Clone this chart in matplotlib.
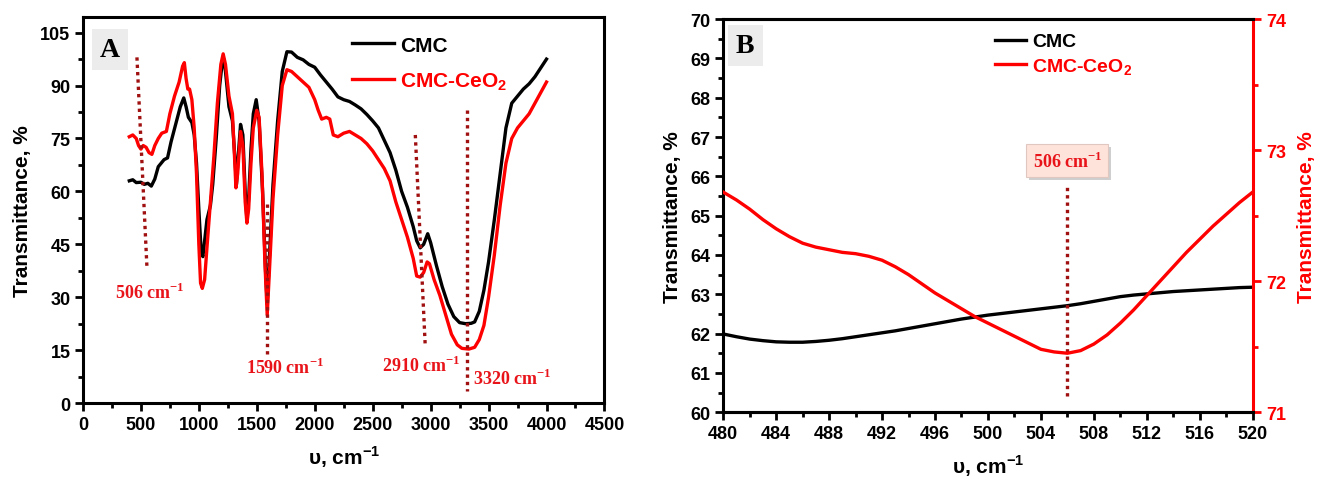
import matplotlib
matplotlib.use("Agg")
import matplotlib.pyplot as plt
import matplotlib.patheffects as pe
from matplotlib.ticker import MultipleLocator

plt.rcParams['font.family'] = ['Liberation Sans', 'DejaVu Sans']
plt.rcParams['font.weight'] = 'bold'
plt.rcParams['mathtext.fontset'] = 'custom'
plt.rcParams['mathtext.sf'] = 'Liberation Sans:bold'
plt.rcParams['mathtext.rm'] = 'Liberation Serif:bold'
plt.rcParams['mathtext.bf'] = 'Liberation Sans:bold'

# ---- panel A: full FTIR spectra ----
cmc_wn = [400, 430, 460, 500, 530, 560, 590, 620, 650, 700, 730, 760, 800, 840, 870,
          890, 910, 940, 960, 980, 1000, 1020, 1035, 1050, 1070, 1100, 1120, 1150, 1180,
          1200, 1215, 1230, 1260, 1290, 1310, 1325, 1340, 1360, 1380, 1400, 1415, 1430,
          1450, 1470, 1495, 1520, 1550, 1575, 1590, 1610, 1640, 1680, 1720, 1760, 1800,
          1850, 1900, 1950, 2000, 2050, 2100, 2150, 2200, 2250, 2300, 2350, 2400, 2450,
          2500, 2550, 2600, 2650, 2700, 2750, 2800, 2850, 2880, 2910, 2940, 2975, 3000,
          3050, 3100, 3150, 3200, 3250, 3300, 3350, 3380, 3420, 3460, 3500, 3550, 3600,
          3650, 3700, 3750, 3800, 3850, 3900, 3950, 4000]
cmc_t = [63.0, 63.3, 62.5, 62.6, 62.0, 62.3, 61.5, 63.5, 67, 69, 69.5, 74, 79, 84, 86.5,
         84, 81, 79.5, 76, 68, 55, 43, 41.5, 46, 52, 56, 62, 75, 90,
         96, 97.5, 94, 84, 80, 70, 62, 70, 79, 76, 60, 52, 58,
         72, 82, 86, 80, 60, 38, 28, 42, 62, 80, 94, 99.6, 99.5,
         98, 97.3, 96, 95.2, 93, 91, 89, 86.8, 86, 85.5, 84.5, 83.4, 81.8,
         80, 78, 74.5, 71, 66, 60, 55.5, 50, 46, 44, 45, 48, 45.5,
         39, 33, 28, 24.5, 22.8, 22.5, 22.6, 23.0, 26, 32, 40, 52, 65,
         78, 85, 87, 89, 90.5, 92.5, 95, 97.5]

ceo2_wn = [400, 430, 460, 480, 500, 520, 545, 570, 595, 620, 650, 680, 720, 750, 790,
           830, 860, 875, 890, 905, 920, 940, 960, 980, 1000, 1015, 1030, 1050, 1070,
           1100, 1130, 1160, 1190, 1210, 1230, 1260, 1290, 1305, 1320, 1335, 1360, 1380,
           1400, 1415, 1430, 1450, 1470, 1500, 1520, 1545, 1570, 1590, 1610, 1640, 1680,
           1720, 1760, 1800, 1850, 1900, 1950, 2000, 2030, 2060, 2100, 2130, 2160, 2200,
           2250, 2300, 2350, 2400, 2450, 2500, 2550, 2600, 2650, 2700, 2750, 2800, 2850,
           2880, 2910, 2940, 2970, 2990, 3030, 3080, 3130, 3180, 3230, 3270, 3330, 3380,
           3420, 3460, 3500, 3550, 3600, 3650, 3700, 3750, 3800, 3850, 3900, 3950, 4000]
ceo2_t = [75.5, 76, 75, 73, 72, 73, 72.5, 71, 70.5, 73, 75, 76.5, 77, 82, 87,
          91, 95.5, 96.5, 92, 89, 89, 86, 78, 65, 45, 34, 32.5, 35, 44,
          57, 70, 85, 96, 99, 96, 87, 82, 72, 61, 65, 77, 73,
          57, 51, 55, 68, 78, 83, 81, 65, 40, 25, 38, 58, 76,
          90, 94.5, 94, 92.5, 91, 89.5, 86, 83, 80.5, 81, 80.5, 76, 75.5,
          76.5, 77, 76, 75, 73.5, 71.5, 69, 66.5, 63, 57, 52, 47, 41,
          36, 35.7, 37, 40, 39.5, 35, 30.5, 25, 19.5, 16.5, 15.5, 15.3, 15.8,
          18, 22, 30, 42, 56, 68, 75, 78, 80, 82, 85, 88, 91]

# band markers: (x_top, y_top, x_bottom, y_bottom), label text position
band_labels = ['506', '1590', '2910', '3320']
band_lines = [(466, 98, 553, 38), (1589, 56.5, 1589, 14), (2868, 76, 2954, 15.9),
              (3317, 83, 3317, 3.4)]
band_text_pos = [(579, 31.5), (1745, 10.2), (2920, 10.8), (3706, 7.1)]

# ---- panel B: zoom around 506 cm-1 ----
zoom_wn = list(range(480, 521))
zoom_cmc = [61.99, 61.92, 61.86, 61.82, 61.79, 61.78, 61.78, 61.80, 61.83, 61.87,
            61.92, 61.97, 62.02, 62.07, 62.13, 62.19, 62.25, 62.31, 62.37, 62.42,
            62.47, 62.51, 62.55, 62.59, 62.63, 62.67, 62.71, 62.76, 62.82, 62.88,
            62.94, 62.98, 63.01, 63.04, 63.07, 63.09, 63.11, 63.13, 63.15, 63.17, 63.18]
zoom_ceo2 = [72.68, 72.62, 72.55, 72.47, 72.40, 72.34, 72.29, 72.26, 72.24, 72.22,
             72.21, 72.19, 72.16, 72.11, 72.05, 71.98, 71.91, 71.85, 71.79, 71.73,
             71.68, 71.63, 71.58, 71.53, 71.48, 71.46, 71.45, 71.47, 71.52, 71.59,
             71.68, 71.78, 71.89, 72.00, 72.11, 72.22, 72.32, 72.42, 72.51, 72.60, 72.68]

DARKRED = '#a01010'
RED = '#ff0000'
LABEL_RED = '#e8141a'
XLABEL = r'$\mathsf{\upsilon}$, cm$^{\mathsf{-1}}$'


def style_axis(ax, color='black'):
    for sp in ax.spines.values():
        sp.set_linewidth(2.2)
    ax.tick_params(which='major', direction='out', length=6, width=2,
                   labelsize=13, pad=3, colors=color)
    ax.tick_params(which='minor', direction='out', length=3.5, width=2, colors=color)
    ax.tick_params(top=False, right=False, which='both')
    for lab in ax.get_xticklabels() + ax.get_yticklabels():
        lab.set_fontweight('bold')


def panel_tag(ax, letter, x, y):
    ax.text(x, y, letter, transform=ax.transAxes, ha='center', va='center',
            fontsize=20, fontweight='bold', family='Liberation Serif',
            bbox=dict(boxstyle='square,pad=0.3', fc='#ececec', ec='none'))


fig = plt.figure(figsize=(13.27, 4.81), dpi=100)

axA = fig.add_axes([0.0625, 0.160, 0.393, 0.803])
axA.plot(cmc_wn, cmc_t, color='black', lw=2.4, label='CMC')
axA.plot(ceo2_wn, ceo2_t, color=RED, lw=2.4, label=r'CMC-CeO$_{\mathsf{2}}$')
for (x0, y0, x1, y1), (tx, ty), lab in zip(band_lines, band_text_pos, band_labels):
    axA.plot([x0, x1], [y0, y1], color=DARKRED, lw=2.4, ls=(0, (1, 1.2)))
    axA.text(tx, ty, lab + r' cm$^{\mathrm{-1}}$', color=LABEL_RED, ha='center',
             va='center', fontsize=13, fontweight='bold', family='Liberation Serif')
axA.set_xlim(0, 4500)
axA.set_ylim(0, 109.5)
axA.xaxis.set_major_locator(MultipleLocator(500))
axA.xaxis.set_minor_locator(MultipleLocator(250))
axA.yaxis.set_major_locator(MultipleLocator(15))
axA.yaxis.set_minor_locator(MultipleLocator(7.5))
axA.set_xlabel(XLABEL, fontsize=15, fontweight='bold', labelpad=8)
axA.set_ylabel('Transmittance, %', fontsize=15, fontweight='bold', labelpad=6)
style_axis(axA)
panel_tag(axA, 'A', 0.052, 0.915)
legA = axA.legend(loc='upper left', bbox_to_anchor=(0.48, 1.0), frameon=False,
                  handlelength=2.0, handletextpad=0.3, labelspacing=0.75,
                  prop={'size': 15, 'weight': 'bold'})
for txt, line in zip(legA.get_texts(), legA.get_lines()):
    txt.set_color(line.get_color())

axB = fig.add_axes([0.545, 0.141, 0.399, 0.817])
axB2 = axB.twinx()
axB.plot(zoom_wn, zoom_cmc, color='black', lw=2.4, label='CMC')
axB2.plot(zoom_wn, zoom_ceo2, color=RED, lw=2.4, label=r'CMC-CeO$_{\mathsf{2}}$')
axB.plot([506, 506], [60.4, 65.8], color=DARKRED, lw=2.4, ls=(0, (1, 1.2)))
peak_note = axB.text(506, 66.4, r'506 cm$^{\mathrm{-1}}$', color=LABEL_RED, ha='center',
                     va='center', fontsize=13, fontweight='bold',
                     family='Liberation Serif',
                     bbox=dict(boxstyle='square,pad=0.35', fc='#fde3da', ec='#e0c8c0',
                               lw=0.8))
peak_note.get_bbox_patch().set_path_effects(
    [pe.withSimplePatchShadow(offset=(2, -2), shadow_rgbFace='#b0b0b0', alpha=0.6)])
axB.set_xlim(480, 520)
axB.set_ylim(60, 70)
axB2.set_ylim(71, 74)
axB.xaxis.set_major_locator(MultipleLocator(4))
axB.xaxis.set_minor_locator(MultipleLocator(2))
axB.yaxis.set_major_locator(MultipleLocator(1))
axB.yaxis.set_minor_locator(MultipleLocator(0.5))
axB2.yaxis.set_major_locator(MultipleLocator(1))
axB2.yaxis.set_minor_locator(MultipleLocator(0.5))
axB.set_xlabel(XLABEL, fontsize=15, fontweight='bold', labelpad=8)
axB.set_ylabel('Transmittance, %', fontsize=15, fontweight='bold', labelpad=6)
style_axis(axB)
axB.spines['right'].set_visible(False)
for sp in axB2.spines.values():
    sp.set_linewidth(2.2)
axB2.spines['left'].set_visible(False)
axB2.spines['right'].set_color(RED)
axB2.tick_params(which='major', direction='out', length=6, width=2, labelsize=13,
                 colors=RED)
axB2.tick_params(which='minor', direction='out', length=3.5, width=2, colors=RED)
for lab in axB2.get_yticklabels():
    lab.set_fontweight('bold')
axB2.set_ylabel('Transmittance, %', fontsize=15, fontweight='bold', color=RED,
                labelpad=8)
panel_tag(axB, 'B', 0.0415, 0.933)
handles = axB.get_lines()[:1] + axB2.get_lines()[:1]
legB = axB.legend(handles, [h.get_label() for h in handles], loc='upper left',
                  bbox_to_anchor=(0.48, 1.01), frameon=False, handlelength=1.6,
                  handletextpad=0.3, labelspacing=0.3,
                  prop={'size': 14, 'weight': 'bold'})
for txt, line in zip(legB.get_texts(), legB.get_lines()):
    txt.set_color(line.get_color())

fig.savefig('out.png', dpi=100)
